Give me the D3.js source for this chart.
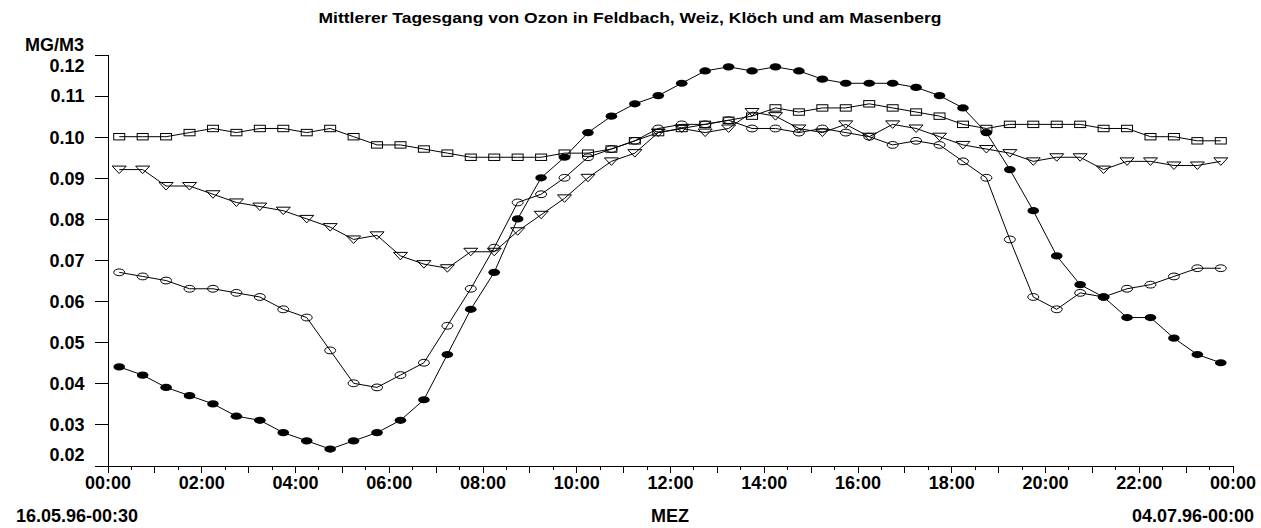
<!DOCTYPE html>
<html>
<head>
<meta charset="utf-8">
<script src="https://cdn.jsdelivr.net/npm/d3@7"></script>
<style>
  html, body { margin: 0; padding: 0; background: #fff; }
  svg { display: block; }
  text { font-family: "Liberation Sans", Arial, sans-serif; font-weight: bold; fill: #000; }
</style>
</head>
<body>
<svg id="chart" width="1261" height="528"></svg>
<script>
// Half-hourly mean times (centre of each interval)
const times = [
  "00:15","00:45","01:15","01:45","02:15","02:45","03:15","03:45",
  "04:15","04:45","05:15","05:45","06:15","06:45","07:15","07:45",
  "08:15","08:45","09:15","09:45","10:15","10:45","11:15","11:45",
  "12:15","12:45","13:15","13:45","14:15","14:45","15:15","15:45",
  "16:15","16:45","17:15","17:45","18:15","18:45","19:15","19:45",
  "20:15","20:45","21:15","21:45","22:15","22:45","23:15","23:45"
];

// Ozone, mg/m3 — one array per station curve
const filledCircles = [
  0.044,0.042,0.039,0.037,0.035,0.032,0.031,0.028,0.026,0.024,0.026,0.028,
  0.031,0.036,0.047,0.058,0.067,0.080,0.090,0.095,0.101,0.105,0.108,0.110,
  0.113,0.116,0.117,0.116,0.117,0.116,0.114,0.113,0.113,0.113,0.112,0.110,
  0.107,0.101,0.092,0.082,0.071,0.064,0.061,0.056,0.056,0.051,0.047,0.045
];
const openCircles = [
  0.067,0.066,0.065,0.063,0.063,0.062,0.061,0.058,0.056,0.048,0.040,0.039,
  0.042,0.045,0.054,0.063,0.073,0.084,0.086,0.090,0.095,0.097,0.099,0.102,
  0.103,0.103,0.104,0.102,0.102,0.101,0.102,0.101,0.100,0.098,0.099,0.098,
  0.094,0.090,0.075,0.061,0.058,0.062,0.061,0.063,0.064,0.066,0.068,0.068
];
const squares = [
  0.100,0.100,0.100,0.101,0.102,0.101,0.102,0.102,0.101,0.102,0.100,0.098,
  0.098,0.097,0.096,0.095,0.095,0.095,0.095,0.096,0.096,0.097,0.099,0.101,
  0.102,0.103,0.104,0.105,0.107,0.106,0.107,0.107,0.108,0.107,0.106,0.105,
  0.103,0.102,0.103,0.103,0.103,0.103,0.102,0.102,0.100,0.100,0.099,0.099
];
const triangles = [
  0.092,0.092,0.088,0.088,0.086,0.084,0.083,0.082,0.080,0.078,0.075,0.076,
  0.071,0.069,0.068,0.072,0.072,0.077,0.081,0.085,0.090,0.094,0.096,0.101,
  0.102,0.101,0.102,0.106,0.105,0.102,0.101,0.103,0.100,0.103,0.102,0.100,
  0.098,0.097,0.096,0.094,0.095,0.095,0.092,0.094,0.094,0.093,0.093,0.094
];

const yTickValues = [0.02,0.03,0.04,0.05,0.06,0.07,0.08,0.09,0.10,0.11,0.12];
const xTickLabels = ["00:00","02:00","04:00","06:00","08:00","10:00","12:00",
                     "14:00","16:00","18:00","20:00","22:00","00:00"];

const titleText = "Mittlerer Tagesgang von Ozon in Feldbach, Weiz, Klöch und am Masenberg";
const unitText = "MG/M3";
const axisText = "MEZ";
const startText = "16.05.96-00:30";
const endText = "04.07.96-00:00";

const svg = d3.select("#chart");
const plotLeft = 107.5, plotRight = 1232.5, plotTop = 54.5, plotBottom = 465.5;

const toHours = s => { const [h, m] = s.split(":").map(Number); return h + m / 60; };

const x = d3.scaleLinear().domain([0, 24]).range([plotLeft, plotRight]);
const y = d3.scaleLinear().domain([0.02, 0.12]).range([plotBottom, plotTop]);

// Title
svg.append("text")
  .attr("x", 630).attr("y", 23)
  .attr("text-anchor", "middle")
  .style("font-size", "15px")
  .attr("textLength", 623).attr("lengthAdjust", "spacingAndGlyphs")
  .text(titleText);

// Y axis
const yAxis = svg.append("g")
  .attr("transform", `translate(${plotLeft},0)`)
  .call(d3.axisLeft(y).tickValues(yTickValues).tickSize(13).tickSizeOuter(0)
    .tickFormat(d3.format(".2f")));
yAxis.selectAll("text")
  .style("font-size", "18px")
  .attr("x", -23)
  .attr("dy", "0.35em")
  .attr("y", d => {
    const p = y(d);
    return Math.min(Math.max(p, plotTop + 11), plotBottom - 11) - p;
  });

svg.append("text")
  .attr("x", 84).attr("y", 51)
  .attr("text-anchor", "end")
  .style("font-size", "18px")
  .text(unitText);

// X axis: half-hour minor ticks, hourly ticks, labels every two hours
const halfHours = d3.range(0.5, 24, 1);
const hours = d3.range(0, 25, 1);

const xMinor = svg.append("g")
  .attr("transform", `translate(0,${plotBottom})`)
  .call(d3.axisBottom(x).tickValues(halfHours).tickSize(4).tickSizeOuter(0).tickFormat(""));
xMinor.select(".domain").remove();

const xAxis = svg.append("g")
  .attr("transform", `translate(0,${plotBottom})`)
  .call(d3.axisBottom(x).tickValues(hours).tickSize(7).tickSizeOuter(0)
    .tickFormat(h => h % 2 === 0 ? xTickLabels[h / 2] : ""));
svg.selectAll(".tick line, .domain").attr("stroke", "#000").attr("shape-rendering", "crispEdges");
xAxis.selectAll("text")
  .style("font-size", "18px")
  .attr("y", 11)
  .attr("dy", "0.71em");

svg.append("text")
  .attr("x", 16).attr("y", 522)
  .style("font-size", "18px")
  .text(startText);
svg.append("text")
  .attr("x", (plotLeft + plotRight) / 2).attr("y", 522)
  .attr("text-anchor", "middle")
  .style("font-size", "18px")
  .text(axisText);
svg.append("text")
  .attr("x", 1254).attr("y", 522)
  .attr("text-anchor", "end")
  .style("font-size", "18px")
  .text(endText);

// Curves
const series = [
  { values: squares, marker: "square" },
  { values: triangles, marker: "triangle" },
  { values: openCircles, marker: "open" },
  { values: filledCircles, marker: "filled" }
];

const line = d3.line().x(d => x(d.t)).y(d => y(d.v));
const plot = svg.append("g");

series.forEach(s => {
  const pts = s.values.map((v, i) => ({ t: toHours(times[i]), v }));
  plot.append("path")
    .datum(pts)
    .attr("fill", "none")
    .attr("stroke", "#000")
    .attr("stroke-width", 1)
    .attr("d", line);
  s.pts = pts;
});

series.forEach(s => {
  const g = plot.append("g");
  const sel = g.selectAll("g").data(s.pts).join("g")
    .attr("transform", d => `translate(${x(d.t)},${y(d.v)})`);
  if (s.marker === "square") {
    sel.append("rect")
      .attr("x", -5.5).attr("y", -3.2).attr("width", 11).attr("height", 6.4)
      .attr("fill", "none").attr("stroke", "#000").attr("stroke-width", 1);
  } else if (s.marker === "triangle") {
    sel.append("path")
      .attr("d", "M-7,-3.5L7,-3.5L0,4Z")
      .attr("fill", "none").attr("stroke", "#000").attr("stroke-width", 1);
  } else if (s.marker === "open") {
    sel.append("ellipse")
      .attr("rx", 5.5).attr("ry", 3.4)
      .attr("fill", "none").attr("stroke", "#000").attr("stroke-width", 1);
  } else {
    sel.append("ellipse")
      .attr("rx", 5.8).attr("ry", 3.6)
      .attr("fill", "#000");
  }
});
</script>
</body>
</html>
